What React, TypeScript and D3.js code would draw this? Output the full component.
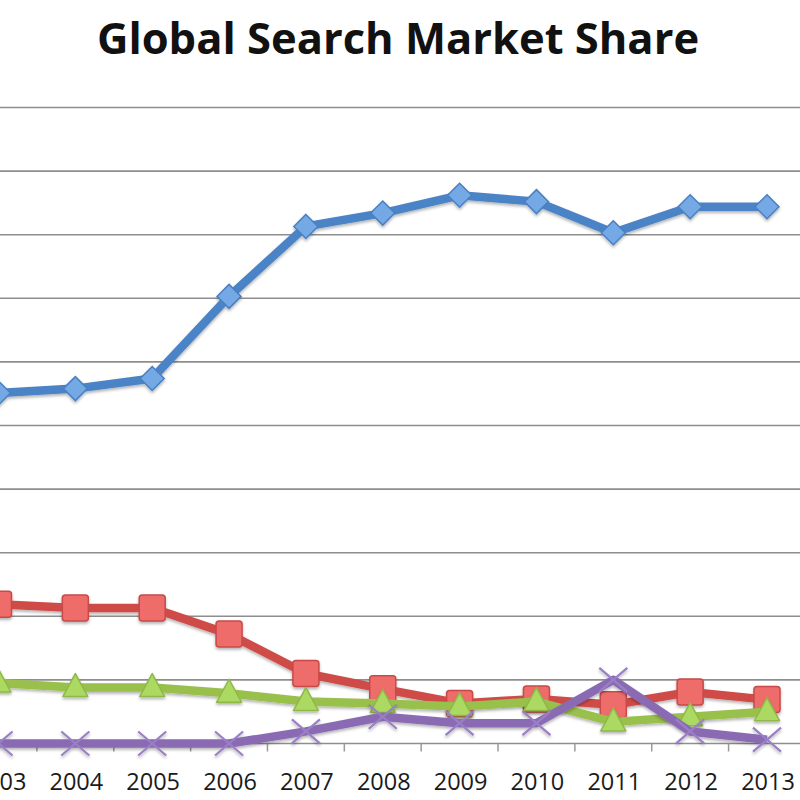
import React, {useEffect, useRef} from 'react';
import * as d3 from 'd3';

const years = ['2003', '2004', '2005', '2006', '2007', '2008', '2009', '2010', '2011', '2012', '2013'];
const google = [55.1, 55.8, 57.4, 70.3, 81.3, 83.4, 86.2, 85.2, 80.3, 84.4, 84.4];
const yahoo = [21.9, 21.3, 21.3, 17.2, 11.0, 8.6, 6.3, 7.0, 6.1, 8.1, 6.9];
const msn = [9.5, 8.8, 8.8, 7.9, 6.6, 6.3, 5.8, 6.6, 3.4, 4.2, 5.0];
const baidu = [0, 0, 0, 0, 1.9, 4.2, 3.2, 3.2, 10.0, 1.9, 0.6];
const gridTicks = [10, 20, 30, 40, 50, 60, 70, 80, 90, 100];

const series = [
  {name: 'Google', values: google, line: '#4b84c6', fill: '#74a9e6', stroke: '#4a80c0', marker: 'diamond'},
  {name: 'Yahoo', values: yahoo, line: '#cf4b47', fill: '#ee6d6b', stroke: '#c84a47', marker: 'square'},
  {name: 'MSN', values: msn, line: '#98c04c', fill: '#abd962', stroke: '#8fb84a', marker: 'triangle'},
  {name: 'Baidu', values: baidu, line: '#8a6bb3', fill: 'none', stroke: '#9a7fc6', marker: 'cross'},
];

const draw = (node) => {
  d3.select(node).selectAll('*').remove();
  const svg = d3.select(node).attr('width', 800).attr('height', 800);

  const defs = svg.append('defs');
  const f = defs.append('filter').attr('id', 'shadow').attr('x', '-20%').attr('y', '-20%').attr('width', '140%').attr('height', '140%');
  f.append('feDropShadow').attr('dx', 0).attr('dy', 2).attr('stdDeviation', 1.8).attr('flood-opacity', 0.3);

  const x = d3.scalePoint().domain(years).range([-1.5, 767]);
  const y = d3.scaleLinear().domain([0, 100]).range([743.5, 107.5]);

  svg.append('text')
    .attr('x', 398)
    .attr('y', 54)
    .attr('text-anchor', 'middle')
    .attr('font-family', 'Open Sans, sans-serif')
    .attr('font-weight', 700)
    .attr('font-size', 43.5)
    .attr('fill', '#111')
    .text('Global Search Market Share');

  // gridlines
  svg.append('g')
    .selectAll('line')
    .data(gridTicks)
    .enter()
    .append('line')
    .attr('x1', -40)
    .attr('x2', 840)
    .attr('y1', d => y(d))
    .attr('y2', d => y(d))
    .attr('stroke', '#8e8e8e')
    .attr('stroke-width', 1.6);

  // x axis, ticks sit between categories
  const step = x.step();
  const ticks = years.map(d => x(d) + step / 2);
  const axis = svg.append('g');
  axis.append('line')
    .attr('x1', -40).attr('x2', 840)
    .attr('y1', y(0)).attr('y2', y(0))
    .attr('stroke', '#8e8e8e')
    .attr('stroke-width', 1.6);
  axis.selectAll('.tick')
    .data(ticks)
    .enter()
    .append('line')
    .attr('x1', d => d).attr('x2', d => d)
    .attr('y1', y(0)).attr('y2', y(0) + 8)
    .attr('stroke', '#9a9a9a')
    .attr('stroke-width', 1.5);
  axis.selectAll('text')
    .data(years)
    .enter()
    .append('text')
    .attr('x', d => x(d) + 1)
    .attr('y', 790)
    .attr('text-anchor', 'middle')
    .attr('font-family', 'Open Sans, sans-serif')
    .attr('font-size', 23.5)
    .attr('fill', '#1a1a1a')
    .text(d => d);

  const line = d3.line().x((d, i) => x(years[i])).y(d => y(d));

  series.forEach(s => {
    const g = svg.append('g').attr('filter', 'url(#shadow)');
    g.append('path')
      .attr('d', line(s.values))
      .attr('fill', 'none')
      .attr('stroke', s.line)
      .attr('stroke-width', 8.5)
      .attr('stroke-linejoin', 'round');
    const pts = g.selectAll('.m')
      .data(s.values)
      .enter()
      .append('g')
      .attr('transform', (d, i) => `translate(${x(years[i])},${y(d)})`);
    if (s.marker === 'diamond') {
      pts.append('path').attr('d', 'M0,-12L12,0L0,12L-12,0Z')
        .attr('fill', s.fill).attr('stroke', s.stroke).attr('stroke-width', 1.5);
    } else if (s.marker === 'square') {
      pts.append('rect').attr('x', -13).attr('y', -13).attr('width', 26).attr('height', 26)
        .attr('rx', 3)
        .attr('fill', s.fill).attr('stroke', s.stroke).attr('stroke-width', 1.5);
    } else if (s.marker === 'triangle') {
      pts.append('path').attr('d', 'M0,-14L12.5,9L-12.5,9Z')
        .attr('stroke-linejoin', 'round')
        .attr('fill', s.fill).attr('stroke', s.stroke).attr('stroke-width', 1.5);
    } else {
      pts.append('path').attr('d', 'M-14,-12L14,12M-14,12L14,-12')
        .attr('fill', 'none').attr('stroke', s.stroke).attr('stroke-width', 2.2);
    }
  });
};

export default function App() {
  const ref = useRef(null);
  useEffect(() => {
    draw(ref.current);
  }, []);
  return (
    <svg
      ref={ref}
      style={{position: 'absolute', left: 0, top: 0, display: 'block', background: '#fff'}}
    />
  );
}
